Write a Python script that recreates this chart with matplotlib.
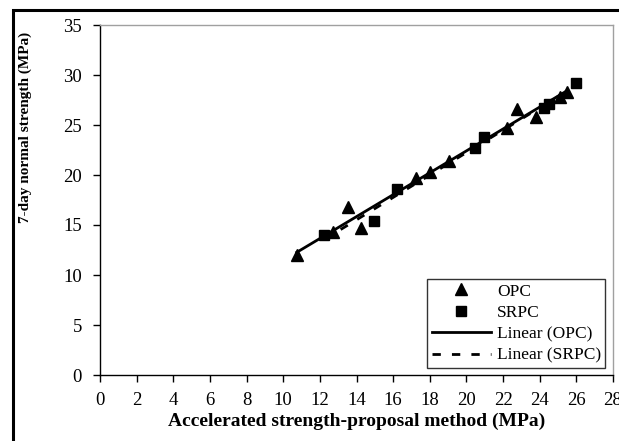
import numpy as np
import matplotlib
matplotlib.use('Agg')
import matplotlib.pyplot as plt
from matplotlib.patches import Rectangle

plt.rcParams['font.family'] = ['Liberation Serif', 'DejaVu Serif']

# OPC points (accelerated vs 7-day normal strength, MPa)
opc_x = [10.74, 12.74, 13.56, 14.25, 17.25, 18.0, 19.07, 22.2, 22.74, 23.78, 25.1, 25.47]
opc_y = [12.0, 14.3, 16.8, 14.7, 19.7, 20.3, 21.4, 24.7, 26.6, 25.8, 27.8, 28.3]

# SRPC points
srpc_x = [12.23, 14.96, 16.23, 20.47, 20.98, 24.25, 24.53, 25.96]
srpc_y = [14.0, 15.4, 18.6, 22.7, 23.8, 26.7, 27.1, 29.2]

x_ticks = list(range(0, 29, 2))
y_ticks = list(range(0, 36, 5))

fig = plt.figure(figsize=(6.19, 4.41), dpi=100)
ax = fig.add_axes([100 / 619, 1 - 375 / 441, 513 / 619, 350 / 441])

# outer frame, cut off at right and bottom like the original
fig.patches.append(Rectangle((13 / 619, -0.1), 1.2, 1 - 10 / 441 + 0.1,
                             transform=fig.transFigure, fill=False,
                             edgecolor='black', linewidth=2.2))

ax.plot(opc_x, opc_y, linestyle='none', marker='^', color='black',
        markersize=8.5, label='OPC')
ax.plot(srpc_x, srpc_y, linestyle='none', marker='s', color='black',
        markersize=6.5, label='SRPC')

# linear trendlines over each data range
k1, b1 = np.polyfit(opc_x, opc_y, 1)
xs1 = np.array([min(opc_x), max(opc_x)])
ax.plot(xs1, k1 * xs1 + b1, color='black', linewidth=2, label='Linear (OPC)')

k2, b2 = np.polyfit(srpc_x, srpc_y, 1)
xs2 = np.array([min(srpc_x), max(srpc_x)])
ax.plot(xs2, k2 * xs2 + b2, color='black', linewidth=2,
        dashes=(3, 4), label='Linear (SRPC)')

ax.set_xlim(0, 28)
ax.set_ylim(0, 35)
ax.set_xticks(x_ticks)
ax.set_yticks(y_ticks)
ax.tick_params(axis='both', direction='out', length=5, width=1, labelsize=13.5)
ax.tick_params(axis='y', pad=8)
ax.tick_params(axis='x', pad=7)

for s in ['top', 'right']:
    ax.spines[s].set_color('#a0a0a0')
for s in ['left', 'bottom']:
    ax.spines[s].set_color('black')
for s in ax.spines.values():
    s.set_linewidth(1)

ax.set_xlabel('Accelerated strength-proposal method (MPa)', fontsize=14,
              fontweight='bold', labelpad=3)
ax.set_ylabel('7-day normal strength (MPa)', fontsize=11, fontweight='bold')
ax.yaxis.set_label_coords(-0.133, 0.706)

leg = ax.legend(loc='lower right', bbox_to_anchor=(0.985, 0.02),
                fontsize=12.5, frameon=True, fancybox=False,
                handlelength=3.4, handletextpad=0.35, borderpad=0.25,
                labelspacing=0.3, borderaxespad=0)
leg.get_frame().set_edgecolor('black')
leg.get_frame().set_linewidth(1)

fig.savefig('out.png', dpi=100, facecolor='white')
